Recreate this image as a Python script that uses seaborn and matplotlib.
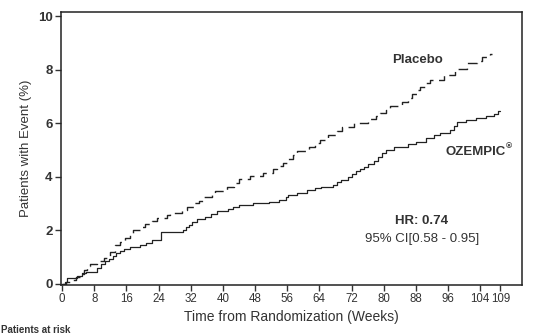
import matplotlib
matplotlib.use("Agg")
import matplotlib.pyplot as plt
import seaborn as sns
import pandas as pd

# ---- data ----
oz_weeks = [0, 0.7, 1.2, 3.8, 5.0, 6.0, 8.8, 9.8, 10.8, 11.8, 12.6, 13.5, 14.4, 15.3,
            17.0, 19.5, 21.0, 22.3, 24.5, 30.0, 30.8, 31.6, 32.4, 33.5, 35.5, 37.0,
            38.5, 41.2, 42.6, 44.0, 47.5, 51.5, 54.0, 55.6, 56.3, 58.5, 61.0, 62.8,
            64.5, 67.5, 68.5, 69.5, 71.0, 72.2, 73.0, 74.0, 75.0, 76.0, 77.5, 78.5,
            79.5, 80.5, 82.5, 86.0, 88.0, 90.5, 92.5, 94.0, 96.5, 97.6, 98.3, 100.5,
            103.0, 105.5, 107.5, 108.5, 108.9]
oz_pct = [0, 0.08, 0.22, 0.30, 0.38, 0.45, 0.60, 0.72, 0.85, 0.92, 1.05, 1.13, 1.22, 1.30,
          1.37, 1.45, 1.52, 1.65, 1.93, 2.02, 2.12, 2.20, 2.30, 2.42, 2.48, 2.60,
          2.72, 2.78, 2.87, 2.95, 3.00, 3.05, 3.13, 3.25, 3.32, 3.38, 3.50, 3.57,
          3.63, 3.70, 3.80, 3.88, 3.98, 4.10, 4.20, 4.28, 4.36, 4.47, 4.60, 4.75,
          4.87, 5.00, 5.10, 5.22, 5.30, 5.45, 5.55, 5.62, 5.75, 5.90, 6.05, 6.12,
          6.18, 6.25, 6.35, 6.47, 6.47]

pl_weeks = [0, 1.0, 2.0, 3.5, 4.5, 5.5, 6.2, 7.0, 8.6, 10.5, 11.1, 12.0, 13.2, 14.5,
            15.7, 16.8, 17.7, 19.5, 20.6, 22.5, 23.6, 26.0, 26.9, 29.8, 31.0, 32.7,
            34.0, 35.2, 37.2, 38.1, 41.0, 42.8, 43.9, 46.8, 50.1, 52.5, 53.4, 55.0,
            55.9, 57.5, 58.4, 61.3, 63.0, 64.2, 66.2, 68.5, 69.6, 72.5, 76.2, 78.0,
            79.1, 80.5, 81.6, 84.5, 86.0, 87.0, 88.2, 89.1, 90.5, 91.5, 94.9, 97.8,
            100.7, 103.1, 104.4, 106.5, 107.0]
pl_pct = [0, 0.07, 0.15, 0.25, 0.35, 0.50, 0.65, 0.75, 0.83, 0.95, 1.05, 1.20, 1.45, 1.55,
          1.70, 1.85, 2.00, 2.10, 2.24, 2.35, 2.45, 2.55, 2.63, 2.76, 2.88, 3.00,
          3.10, 3.22, 3.35, 3.47, 3.63, 3.75, 3.90, 4.02, 4.13, 4.28, 4.40, 4.52,
          4.65, 4.80, 4.94, 5.12, 5.25, 5.36, 5.56, 5.72, 5.85, 6.02, 6.14, 6.28,
          6.39, 6.50, 6.62, 6.80, 6.95, 7.10, 7.22, 7.36, 7.48, 7.61, 7.80, 8.01,
          8.23, 8.33, 8.48, 8.58, 8.58]

x_ticks = [0, 8, 16, 24, 32, 40, 48, 56, 64, 72, 80, 88, 96, 104, 109]
y_ticks = [0, 2, 4, 6, 8, 10]

# ---- plot ----
sns.set_theme(style="white")
plt.rcParams['font.family'] = ['Liberation Sans', 'DejaVu Sans']

fig = plt.figure(figsize=(5.39, 3.34), dpi=100)
ax = fig.add_axes([0.1132, 0.1467, 0.8553, 0.8173])

oz_df = pd.DataFrame({"week": oz_weeks, "pct": oz_pct})
pl_df = pd.DataFrame({"week": pl_weeks, "pct": pl_pct})

sns.lineplot(data=pl_df, x="week", y="pct", ax=ax, estimator=None, sort=False,
             drawstyle="steps-post", color="#222222", linewidth=1.0,
             linestyle=(0, (7, 4)))
sns.lineplot(data=oz_df, x="week", y="pct", ax=ax, estimator=None, sort=False,
             drawstyle="steps-post", color="#222222", linewidth=0.9)

ax.set_xlim(-0.25, 114.4)
ax.set_ylim(-0.05, 10.15)
ax.set_xticks(x_ticks)
ax.set_yticks(y_ticks)
ax.set_xticklabels([str(t) for t in x_ticks], fontsize=8.3, color="#333333")
ax.set_yticklabels([str(t) for t in y_ticks], fontsize=9.5, fontweight="bold", color="#222222")
ax.tick_params(axis="both", direction="out", length=4, width=1.0, colors="#333333",
               left=True, bottom=True, top=False, right=False, pad=2)
for s in ax.spines.values():
    s.set_color("#222222")
    s.set_linewidth(1.1)
    s.set_visible(True)

ax.set_xlabel("Time from Randomization (Weeks)", fontsize=10, color="#333333", labelpad=3)
ax.set_ylabel("Patients with Event (%)", fontsize=9.5, color="#333333", labelpad=4)

ax.text(82.2, 8.36, "Placebo", fontsize=9.5, fontweight="bold", color="#333333",
        ha="left", va="center")
ax.text(95.3, 4.93, "OZEMPIC", fontsize=9.5, fontweight="bold", color="#333333",
        ha="left", va="center")
ax.text(110.3, 5.12, "\u00ae", fontsize=6, fontweight="bold", color="#333333",
        ha="left", va="center")
ax.text(89.5, 2.35, "HR: 0.74", fontsize=9.5, fontweight="bold", color="#333333",
        ha="center", va="center")
ax.text(89.5, 1.68, "95% CI[0.58 - 0.95]", fontsize=9.5, color="#333333",
        ha="center", va="center")

fig.text(0.002, 0.012, "Patients at risk", fontsize=7, fontweight="bold",
         color="#333333", ha="left", va="center")

fig.savefig("out.png", dpi=100)
